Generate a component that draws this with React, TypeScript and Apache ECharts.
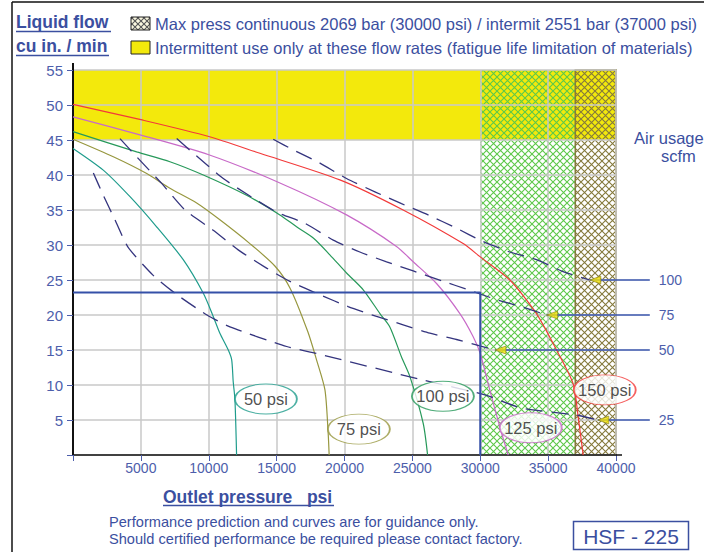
import React, { useEffect, useRef } from 'react';
import * as echarts from 'echarts';

// ---- data (psi, cu in./min) ----
const curve150 = [[0, 50.1], [5000, 47.9], [10000, 45.5], [13770, 43.1], [19660, 39.3], [24320, 35], [28740, 30.2], [30000, 28.3], [32180, 25], [34140, 20.2], [35620, 15], [36840, 10.2], [37210, 5.5], [37580, 0]];
const curve125 = [[0, 48.3], [5000, 45.7], [10000, 42.9], [15200, 38.9], [20150, 34.3], [23830, 29.8], [25060, 27.6], [26780, 24.5], [28500, 20.2], [29480, 16.9], [30000, 14.5], [30700, 9.3], [31440, 4], [32060, 0]];
const curve100 = [[0, 46.2], [4690, 43.3], [7140, 41.9], [9600, 40], [12790, 37.1], [15240, 34.3], [16470, 32.6], [17700, 31], [18920, 28.6], [20150, 26], [21380, 23.6], [22610, 20.2], [23340, 18.3], [24200, 14], [24820, 11.2], [25800, 4.5], [26120, 0]];
const curve75 = [[0, 45.1], [2970, 42.6], [5430, 40.2], [7140, 38.1], [9110, 36], [10820, 33.6], [13030, 30.2], [14870, 27], [16000, 23.8], [17300, 17.6], [17940, 13.6], [18560, 9.3], [18800, 3], [18870, 0]];
const curve50 = [[0, 43.8], [2230, 40.7], [4200, 36.9], [6160, 32.6], [8120, 27.9], [9600, 23.1], [10330, 19.8], [10820, 17.4], [11440, 15], [11690, 13.6], [11800, 10.5], [11930, 7.9], [12050, 0]];

const air25 = [[1500, 40.3], [2230, 37.1], [3090, 33.6], [4050, 29.7], [5890, 25.7], [7660, 22.9], [9870, 20], [11560, 18.3], [15740, 15.5], [17940, 14.5], [25800, 10.7], [30340, 8.6], [33040, 6.7], [37090, 5.7], [38660, 5.0]];
const air50 = [[3460, 45.2], [4690, 42.6], [6530, 38.8], [8250, 35], [10330, 32.1], [12170, 29.3], [14260, 26.7], [15980, 24.8], [18190, 22.9], [20270, 21.2], [22360, 19.8], [24320, 18.6], [26290, 17.4], [28250, 16.5], [29970, 15.6], [31080, 15.0]];
const air75 = [[7640, 45.2], [9110, 42.7], [11070, 39.5], [13030, 37.0], [15000, 34.7], [17080, 33.1], [19170, 30.7], [21130, 29.0], [23100, 27.6], [25060, 26.3], [27150, 24.9], [29110, 23.6], [31200, 22.2], [33040, 21.2], [34880, 20.0]];
const air100 = [[14750, 45.1], [16220, 43.6], [18190, 41.7], [20150, 39.5], [22240, 37.6], [24200, 35.9], [26160, 34.3], [28250, 32.4], [30090, 30.6], [32180, 29.0], [34140, 27.9], [36100, 26.2], [38070, 25.0]];

const operatingBox = [[0, 23.2], [30000, 23.2], [30000, 0]];

const arrowLabels = ['100', '75', '50', '25'];
const arrowTipX = [38070, 34880, 31080, 38660];
const arrowY = [25, 20, 15, 5];
const arrowLabelX = 42490;

const psiNames = ['50 psi', '75 psi', '100 psi', '125 psi', '150 psi'];
const psiLabelPos = [[14210, 8], [21060, 3.7], [27250, 8.4], [33720, 3.9], [39170, 9.3]];

const xMin = 0, xMax = 40000, xStep = 5000;
const yMin = 0, yMax = 55, yStep = 5;
const yellowBand = [45, 55];
const continuousMax = 30000;
const intermitMax = 37000;

const BLUE = '#3b4fa0';
const AXIS_BLUE = '#4d5eab';
const FONT = '"Liberation Sans", Arial, sans-serif';

function makeHatch(color: string, size: number, bg?: string) {
  const c = document.createElement('canvas');
  c.width = size; c.height = size;
  const ctx = c.getContext('2d')!;
  if (bg) { ctx.fillStyle = bg; ctx.fillRect(0, 0, size, size); }
  ctx.strokeStyle = color; ctx.lineWidth = 1.1;
  ctx.beginPath();
  ctx.moveTo(-1, -1); ctx.lineTo(size + 1, size + 1);
  ctx.moveTo(size + 1, -1); ctx.lineTo(-1, size + 1);
  ctx.stroke();
  return { image: c, repeat: 'repeat' } as any;
}

export default function App() {
  const ref = useRef<HTMLDivElement>(null);
  useEffect(() => {
    const chart = echarts.init(ref.current!, null, { renderer: 'svg' });
    const greenHatch = makeHatch('#5dc84a', 7);
    const oliveHatch = makeHatch('#857a3c', 7);
    const iconHatch = makeHatch('#555', 6, '#fbf8e0');

    const curve = (name: string, data: number[][], color: string) => ({
      type: 'line', name, data, showSymbol: false, smooth: 0.25, z: 3,
      lineStyle: { color, width: 1.2 }, silent: true,
    });
    const air = (name: string, data: number[][]) => ({
      type: 'line', name, data, showSymbol: false, smooth: 0.2, z: 3, clip: false,
      lineStyle: { color: '#34347e', width: 1.3, type: [17, 9] }, silent: true,
    });

    const psiColors = ['#1f9c8c', '#97973f', '#27995a', '#c86ac8', '#f23a3a'];
    const ellipseSeries = {
      type: 'scatter', clip: false, z: 6, silent: true,
      symbol: 'path://M0 50 A50 50 0 1 1 100 50 A50 50 0 1 1 0 50 Z',
      symbolSize: [62, 30], symbolKeepAspect: false,
      data: psiNames.map((n, i) => ({
        name: n, value: psiLabelPos[i],
        itemStyle: { color: '#ffffff', borderColor: psiColors[i], borderWidth: 1.3 },
      })),
      label: { show: true, position: 'inside', formatter: '{b}', color: '#222', fontSize: 16.5, fontFamily: FONT },
    };

    const txt = (text: string, x: number, y: number, font: string, fill = BLUE, align = 'left') => ({
      type: 'text', x, y, silent: true, z: 10, style: { text, font, fill, align, verticalAlign: 'middle' },
    });
    const ln = (x1: number, y1: number, x2: number, y2: number, stroke: string, w: number) => ({
      type: 'line', silent: true, z: 10, shape: { x1, y1, x2, y2 }, style: { stroke, lineWidth: w },
    });

    const option: any = {
      animation: false,
      backgroundColor: '#ffffff',
      textStyle: { fontFamily: FONT },
      grid: { left: 73, top: 70, right: 90, bottom: 97, containLabel: false },
      xAxis: {
        type: 'value', min: xMin, max: xMax, interval: xStep, z: 1.5,
        axisLine: { show: true, onZero: false, lineStyle: { color: '#111', width: 1.5 } },
        axisTick: { show: true, length: 6, lineStyle: { color: AXIS_BLUE } },
        axisLabel: { color: AXIS_BLUE, fontSize: 14, margin: 6, formatter: (v: number) => (v === 0 ? '' : String(v)) },
        splitLine: { show: true, lineStyle: { color: '#c9c9c9', width: 1.5 } },
      },
      yAxis: {
        type: 'value', min: yMin, max: yMax, interval: yStep, z: 1.5,
        axisLine: { show: true, onZero: false, lineStyle: { color: '#111', width: 2 } },
        axisTick: { show: true, length: 6, lineStyle: { color: AXIS_BLUE } },
        axisLabel: { color: AXIS_BLUE, fontSize: 15, margin: 10, formatter: (v: number) => (v === 0 ? '' : String(v)) },
        splitLine: { show: true, lineStyle: { color: '#c9c9c9', width: 1.5 } },
      },
      series: [
        {
          type: 'line', data: [], z: 1, silent: true,
          markArea: {
            silent: true, z: 1,
            data: [
              [{ xAxis: xMin, yAxis: yellowBand[0], itemStyle: { color: '#f3e90c' } }, { xAxis: xMax, yAxis: yellowBand[1] }],
              [{ xAxis: continuousMax, yAxis: yMin, itemStyle: { color: greenHatch } }, { xAxis: intermitMax, yAxis: yMax }],
              [{ xAxis: intermitMax, yAxis: yMin, itemStyle: { color: oliveHatch, borderColor: '#857a3c', borderWidth: 1.5 } }, { xAxis: xMax, yAxis: yMax }],
            ],
          },
        },
        curve('150 psi', curve150, '#f23a3a'),
        curve('125 psi', curve125, '#c86ac8'),
        curve('100 psi', curve100, '#27995a'),
        curve('75 psi', curve75, '#97973f'),
        curve('50 psi', curve50, '#1f9c8c'),
        air('25 scfm', air25),
        air('50 scfm', air50),
        air('75 scfm', air75),
        air('100 scfm', air100),
        {
          type: 'line', data: operatingBox, showSymbol: false, z: 4, silent: true,
          lineStyle: { color: '#3550a8', width: 2 },
        },
        {
          type: 'scatter', data: arrowLabels.map((_, i) => [arrowTipX[i], arrowY[i]]), clip: false, z: 7,
          symbol: 'triangle', symbolSize: [8, 11], symbolRotate: 90, symbolOffset: [5.5, 0],
          itemStyle: { color: '#f3e20a', borderColor: '#8a8420', borderWidth: 0.8 }, silent: true,
        },
        ellipseSeries,
      ],
    };
    chart.setOption(option);

    const px = (x: number, y: number) => chart.convertToPixel({ xAxisIndex: 0, yAxisIndex: 0 }, [x, y]) as number[];
    const arrowGraphics: any[] = [];
    arrowLabels.forEach((lab, i) => {
      const a = px(arrowTipX[i], arrowY[i]);
      const b = px(arrowLabelX, arrowY[i]);
      arrowGraphics.push({ type: 'line', silent: true, z: 5, shape: { x1: a[0], y1: a[1], x2: b[0], y2: b[1] }, style: { stroke: '#3550a8', lineWidth: 1.5 } });
      arrowGraphics.push(txt(lab, b[0] + 9, b[1], `14px ${FONT}`, AXIS_BLUE));
    });
    // small overhangs of the axis lines beyond the plot
    const origin = px(xMin, yMin);
    const topLeft = px(xMin, yMax);
    const bottomRight = px(xMax, yMin);
    const axisExt = [
      ln(origin[0], topLeft[1], origin[0], topLeft[1] - 7, '#111', 2),
      ln(bottomRight[0], bottomRight[1], bottomRight[0] + 6, bottomRight[1], '#111', 1.5),
    ];

    chart.setOption({
      graphic: [
        ln(12, 2, 704, 2, '#111', 1.5),
        ln(12, 2, 12, 552, '#111', 1.5),
        txt('Liquid flow', 16, 22, `bold 17.5px ${FONT}`),
        ln(16, 31.5, 111, 31.5, BLUE, 1.5),
        txt('cu in. / min', 16, 46, `bold 17.5px ${FONT}`),
        ln(16, 55.5, 109, 55.5, BLUE, 1.5),
        { type: 'rect', silent: true, shape: { x: 131, y: 17, width: 19, height: 13 }, style: { fill: iconHatch, stroke: '#222', lineWidth: 1 } },
        { type: 'rect', silent: true, shape: { x: 131, y: 41, width: 19, height: 13 }, style: { fill: '#f3e90c', stroke: '#222', lineWidth: 1 } },
        txt('Max press continuous 2069 bar (30000 psi) / intermit 2551 bar (37000 psi)', 155, 24, `16.5px ${FONT}`),
        txt('Intermittent use only at these flow rates (fatigue life limitation of materials)', 155, 48, `16.5px ${FONT}`),
        txt('Air usage', 634, 138, `16.5px ${FONT}`),
        txt('scfm', 661, 156, `16.5px ${FONT}`),
        txt('Outlet pressure   psi', 163, 497, `bold 17.5px ${FONT}`),
        ln(163, 505.5, 334, 505.5, BLUE, 1.5),
        txt('Performance prediction and curves are for guidance only.', 109, 522, `14.6px ${FONT}`),
        txt('Should certified performance be required please contact factory.', 109, 539, `14.6px ${FONT}`),
        { type: 'rect', silent: true, shape: { x: 573.5, y: 521.5, width: 115, height: 28 }, style: { fill: '#fff', stroke: BLUE, lineWidth: 1.5 } },
        txt('HSF - 225', 631, 536, `21px ${FONT}`, BLUE, 'center'),
        ...axisExt,
        ...arrowGraphics,
      ],
    });
    return () => chart.dispose();
  }, []);
  return <div ref={ref} style={{ position: 'fixed', left: 0, top: 0, width: 706, height: 552, background: '#fff' }} />;
}
